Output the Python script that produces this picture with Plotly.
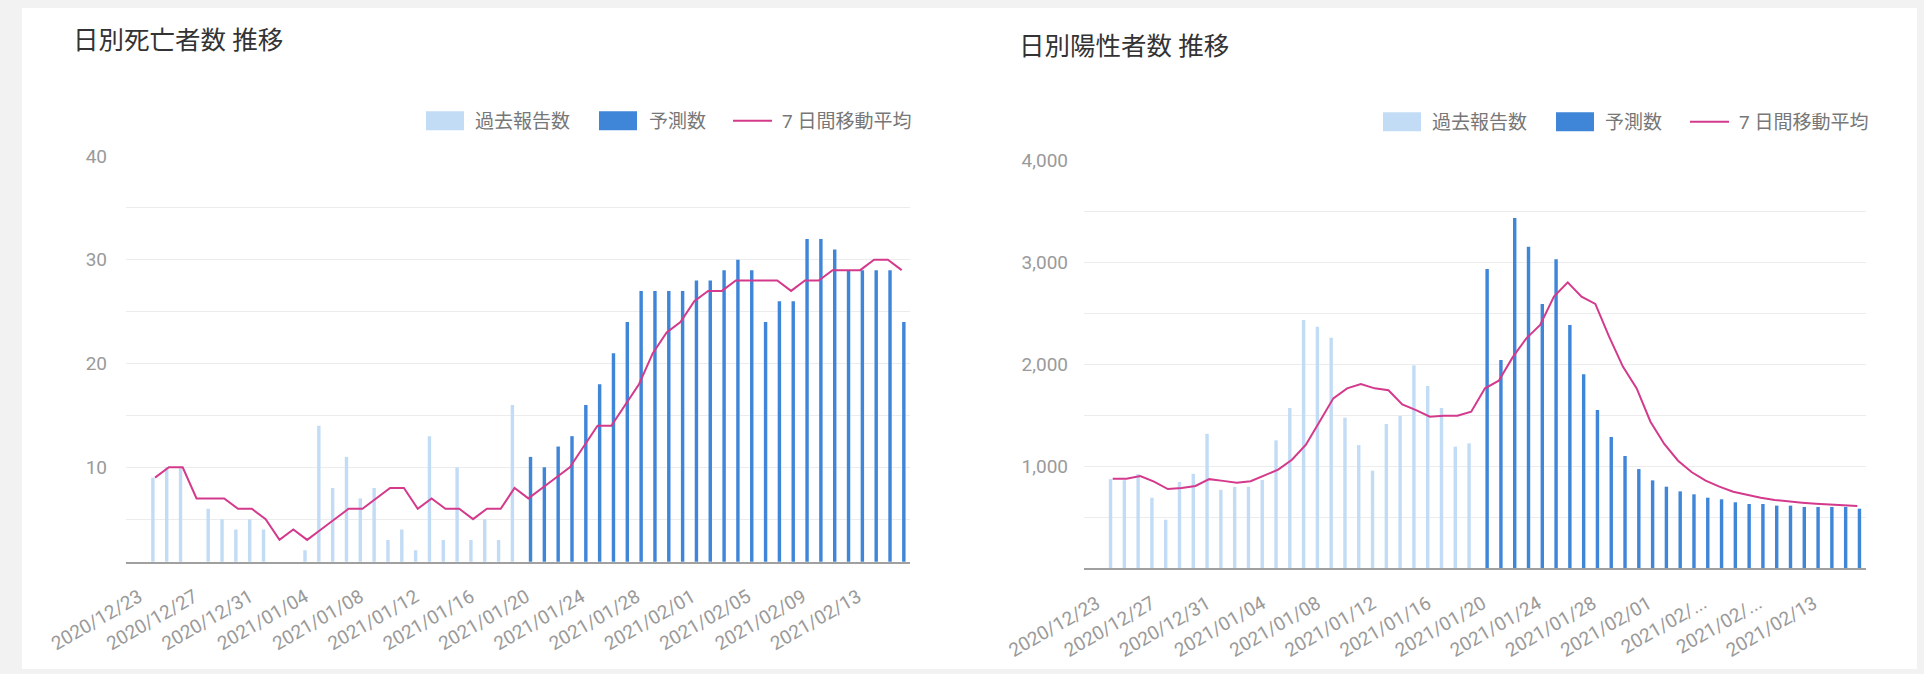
import plotly.graph_objects as go
import pandas as pd

# ---------------- data ----------------
dates = [d.strftime("%Y/%m/%d") for d in pd.date_range("2020-12-23", "2021-02-15")]

N_PAST = 27
deaths_past = [9, 10, 10, None, 6, 5, 4, 5, 4, None, None, 2, 14, 8, 11, 7, 8, 3, 4, 2,
               13, 3, 10, 3, 5, 3, 16]
deaths_pred = [11, 10, 12, 13, 16, 18, 21, 24, 27, 27, 27, 27, 28, 28, 29, 30, 29, 24,
               26, 26, 32, 32, 31, 29, 29, 29, 29, 24]
deaths_ma = [9, 10, 10, 7, 7, 7, 6, 6, 5, 3, 4, 3, 4, 5, 6, 6, 7, 8, 8, 6,
             7, 6, 6, 5, 6, 6, 8, 7, 8, 9, 10, 12, 14, 14, 16, 18, 21, 23, 24, 26,
             27, 27, 28, 28, 28, 28, 27, 28, 28, 29, 29, 29, 30, 30, 29]

cases_past = [875, 865, 925, 692, 476, 848, 927, 1320, 770, 800, 800, 867, 1256, 1573,
              2437, 2371, 2263, 1478, 1209, 958, 1416, 1495, 1992, 1789, 1573, 1194, 1226]
cases_pred = [2937, 2044, 3437, 3156, 2594, 3032, 2388, 1904, 1553, 1289, 1102, 974, 863,
              801, 755, 726, 693, 677, 648, 631, 631, 615, 615, 602, 602, 602, 602, 585]
cases_ma = [880, 880, 905, 850, 778, 789, 808, 875, 858, 840, 855, 910, 968, 1065, 1210,
            1439, 1668, 1766, 1809, 1766, 1747, 1609, 1553, 1488, 1497, 1497, 1537, 1766,
            1841, 2070, 2257, 2388, 2666, 2806, 2666, 2594, 2273, 1979, 1766, 1439, 1220,
            1056, 942, 860, 801, 752, 719, 693, 670, 654, 644, 634, 628, 621, 611]

tick_idx = list(range(0, 55, 4))
left_ticktext = [dates[i] for i in tick_idx]
right_ticktext = [("2021/02/..." if dates[i] in ("2021/02/05", "2021/02/09") else dates[i])
                  for i in tick_idx]

titles = ["日別死亡者数 推移", "日別陽性者数 推移"]
legend_names = ["過去報告数", "予測数", "7 日間移動平均"]

# ---------------- style ----------------
W, H = 1924, 674
LIGHT = "#c3dcf5"
DARK = "#3f86d9"
LINE = "#d43a8c"
GRID = "#ececec"
TICK = "#9a9a9a"
LEGTXT = "#777777"
FONT = "Roboto, 'Noto Sans CJK JP', sans-serif"


def px(x):
    return x / W


def py(y):
    return 1 - y / H


def pad(vals, before, total=55):
    return [None] * before + list(vals) + [None] * (total - before - len(vals))


fig = go.Figure()

for (past, pred, ma, xa, ya) in [
    (deaths_past, deaths_pred, deaths_ma, "x", "y"),
    (cases_past, cases_pred, cases_ma, "x2", "y2"),
]:
    fig.add_trace(go.Bar(x=dates, y=pad(past, 0), marker_color=LIGHT, marker_line_width=0,
                         name=legend_names[0], xaxis=xa, yaxis=ya, showlegend=False))
    fig.add_trace(go.Bar(x=dates, y=pad(pred, N_PAST), marker_color=DARK, marker_line_width=0,
                         name=legend_names[1], xaxis=xa, yaxis=ya, showlegend=False))
    fig.add_trace(go.Scatter(x=dates, y=ma, mode="lines", line=dict(color=LINE, width=2),
                             name=legend_names[2], xaxis=xa, yaxis=ya, showlegend=False))

shapes = [dict(type="rect", xref="paper", yref="paper", x0=px(22), x1=px(1917),
               y0=py(669), y1=py(8), fillcolor="white", line_width=0, layer="below")]
annotations = []

# titles
annotations.append(dict(text=titles[0], x=px(71), y=py(39.5), xref="paper", yref="paper",
                        xanchor="left", yanchor="middle", showarrow=False,
                        font=dict(family=FONT, size=25.5, color="#333333")))
annotations.append(dict(text=titles[1], x=px(1017), y=py(46.5), xref="paper", yref="paper",
                        xanchor="left", yanchor="middle", showarrow=False,
                        font=dict(family=FONT, size=25.5, color="#333333")))

# custom legends
for (r1, t1, r2, t2, l3, t3, yc) in [
    (426, 473, 599, 647, 733, 780, 120.7),
    (1383, 1430, 1556, 1603, 1690, 1737, 121.7),
]:
    shapes.append(dict(type="rect", xref="paper", yref="paper", x0=px(r1), x1=px(r1 + 38),
                       y0=py(yc + 9.5), y1=py(yc - 9.5), fillcolor=LIGHT, line_width=0))
    shapes.append(dict(type="rect", xref="paper", yref="paper", x0=px(r2), x1=px(r2 + 38),
                       y0=py(yc + 9.5), y1=py(yc - 9.5), fillcolor=DARK, line_width=0))
    shapes.append(dict(type="line", xref="paper", yref="paper", x0=px(l3), x1=px(l3 + 39),
                       y0=py(yc), y1=py(yc), line=dict(color=LINE, width=2)))
    for tx, name in zip((t1, t2, t3), legend_names):
        annotations.append(dict(text=name, x=px(tx), y=py(yc + 1), xref="paper", yref="paper",
                                xanchor="left", yanchor="middle", showarrow=False,
                                font=dict(family=FONT, size=19, color=LEGTXT)))

xcommon = dict(type="category", tickangle=-30, tickfont=dict(family=FONT, size=19, color=TICK),
               showgrid=False, showline=True, linecolor="#a0a0a0", linewidth=2, ticks="",
               zeroline=False, ticklabelstandoff=15, ticklabelshift=-16, automargin=False)
ycommon = dict(showgrid=True, gridcolor=GRID, gridwidth=1, zeroline=False, ticks="",
               tickfont=dict(family=FONT, size=19, color=TICK), showline=False,
               automargin=False)

fig.update_layout(
    width=W, height=H, margin=dict(l=0, r=0, t=0, b=0, autoexpand=False),
    paper_bgcolor="#f2f2f2", plot_bgcolor="white",
    barmode="group", bargap=0.38, bargroupgap=0.2,
    showlegend=False, shapes=shapes, annotations=annotations,
    font=dict(family=FONT),
    xaxis=dict(xcommon, domain=[px(126), px(910)], range=[-2.1, 54.6], anchor="y",
               tickvals=[dates[i] for i in tick_idx], ticktext=left_ticktext),
    yaxis=dict(ycommon, domain=[py(561.7), py(156)], range=[0.9, 40], anchor="x",
               tickvals=[10, 20, 30, 40], ticklabelstandoff=18,
               minor=dict(tickvals=[5, 15, 25, 35], showgrid=True, gridcolor=GRID, ticks="")),
    xaxis2=dict(xcommon, domain=[px(1084), px(1866)], range=[-2.08, 54.63], anchor="y2",
                tickvals=[dates[i] for i in tick_idx], ticktext=right_ticktext),
    yaxis2=dict(ycommon, domain=[py(568.3), py(160.7)], range=[0, 4000], anchor="x2",
                tickvals=[1000, 2000, 3000, 4000], tickformat=",", ticklabelstandoff=15,
                minor=dict(tickvals=[500, 1500, 2500, 3500], showgrid=True, gridcolor=GRID,
                           ticks="")),
)

fig.write_html("out.html")
